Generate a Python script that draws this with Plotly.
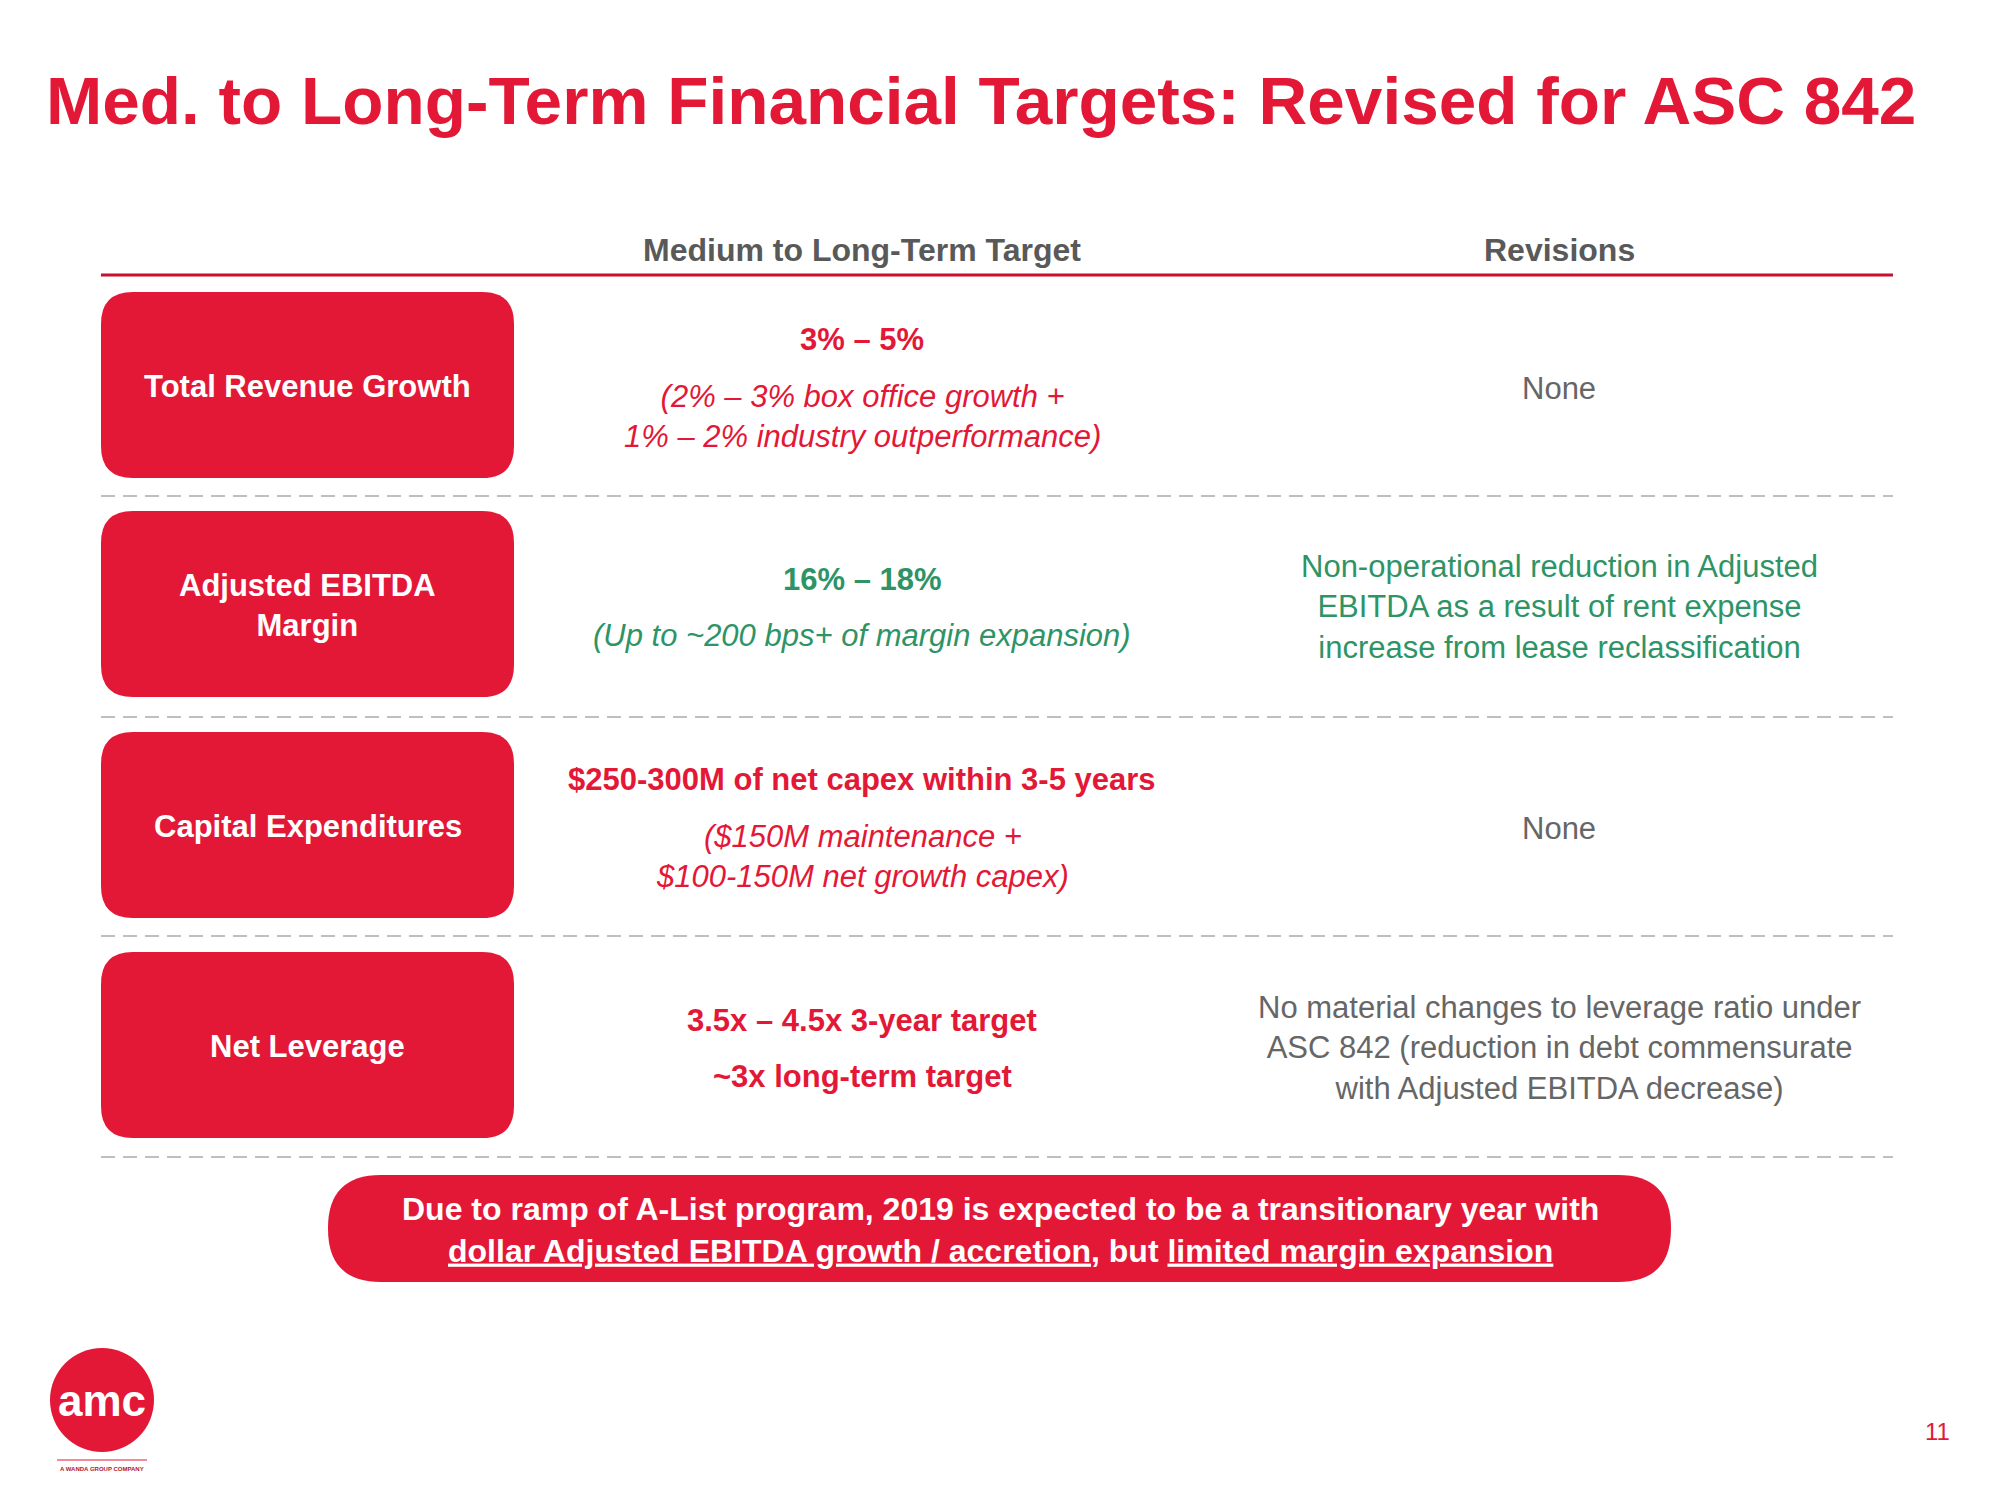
import plotly.graph_objects as go

# ---------------- data ----------------
title_text = "Med. to Long-Term Financial Targets: Revised for ASC 842"
column_headers = ["Medium to Long-Term Target", "Revisions"]
categories = ["Total Revenue Growth", "Adjusted EBITDA<br>Margin",
              "Capital Expenditures", "Net Leverage"]
target_main = ["3% – 5%", "16% – 18%",
               "$250-300M of net capex within 3-5 years",
               "3.5x – 4.5x 3-year target"]
target_sub = ["(2% – 3% box office growth +<br>1% – 2% industry outperformance)",
              "(Up to ~200 bps+ of margin expansion)",
              "($150M maintenance +<br>$100-150M net growth capex)",
              "~3x long-term target"]
target_sub_italic = [True, True, True, False]
target_kind = ["red", "green", "red", "red"]
revisions = ["None",
             "Non-operational reduction in Adjusted<br>EBITDA as a result of rent expense<br>increase from lease reclassification",
             "None",
             "No material changes to leverage ratio under<br>ASC 842 (reduction in debt commensurate<br>with Adjusted EBITDA decrease)"]
revision_kind = ["gray", "green", "gray", "gray"]
banner_text = ("Due to ramp of A-List program, 2019 is expected to be a transitionary year with<br>"
               "<u>dollar Adjusted EBITDA growth / accretion</u>, but <u>limited margin expansion</u>")
logo_text = "amc"
logo_tagline = "A WANDA GROUP COMPANY"
page_number = "11"

# ---------------- style ----------------
RED = "#E31837"
GREEN = "#2E9466"
GRAY = "#666666"
HEAD = "#595959"
DASH = "#BFBFBF"
COL = {"red": RED, "green": GREEN, "gray": GRAY}
FONT = "Liberation Sans, Arial, sans-serif"

W, H = 2000, 1500
OFF = 8  # page body margin
box_x0, box_x1 = 101, 514
row_top = [292, 511, 732, 952]
row_h = 186
dash_y = [496, 717, 936, 1157]
mid_x, rev_x = 862, 1559
table_x0, table_x1 = 101, 1893


def rrect(x0, y0, x1, y1, r):
    return (f"M{x0+r},{y0} L{x1-r},{y0} Q{x1},{y0} {x1},{y0+r} "
            f"L{x1},{y1-r} Q{x1},{y1} {x1-r},{y1} L{x0+r},{y1} "
            f"Q{x0},{y1} {x0},{y1-r} L{x0},{y0+r} Q{x0},{y0} {x0+r},{y0} Z")


def txt(x, y, text, size, color, anchor="center"):
    return dict(x=x, y=y, text=text, xanchor=anchor, yanchor="middle", showarrow=False,
                font=dict(family=FONT, size=size, color=color))


fig = go.Figure()
fig.add_trace(go.Scatter(x=[OFF, W], y=[OFF, H], mode="markers",
                         marker=dict(opacity=0), hoverinfo="skip", showlegend=False))

shapes = []
annotations = []

# title
annotations.append(txt(44, 100, f"<b>{title_text}</b>", 67.5, RED, "left"))

# headers
for hx, htxt in zip([mid_x, rev_x], column_headers):
    annotations.append(txt(hx, 250, f"<b>{htxt}</b>", 32, HEAD))
shapes.append(dict(type="line", x0=table_x0, x1=table_x1, y0=275, y1=275,
                   line=dict(color="#C8102E", width=3)))

for i in range(4):
    top = row_top[i]
    cy = top + row_h / 2
    shapes.append(dict(type="path", path=rrect(box_x0, top, box_x1, top + row_h, 32),
                       fillcolor=RED, line=dict(width=0)))
    annotations.append(txt((box_x0 + box_x1) / 2, cy + 1, f"<b>{categories[i]}</b>", 31, "white"))
    two_line = "<br>" in target_sub[i]
    my = cy - 46 if two_line else cy - 25
    c = COL[target_kind[i]]
    annotations.append(txt(mid_x, my, f"<b>{target_main[i]}</b>", 31, c))
    sub = f"<i>{target_sub[i]}</i>" if target_sub_italic[i] else f"<b>{target_sub[i]}</b>"
    annotations.append(txt(mid_x, cy + 31, sub, 31, c))
    annotations.append(txt(rev_x, cy + 3, revisions[i], 31, COL[revision_kind[i]]))
    shapes.append(dict(type="line", x0=table_x0, x1=table_x1, y0=dash_y[i], y1=dash_y[i],
                       line=dict(color=DASH, width=2, dash="14px,8px")))

# banner
shapes.append(dict(type="path", path=rrect(328, 1175, 1671, 1282, 53), fillcolor=RED, line=dict(width=0)))
annotations.append(txt(1000, 1230, f"<b>{banner_text}</b>", 32, "white"))

# logo
shapes.append(dict(type="circle", x0=50, x1=154, y0=1348, y1=1452, fillcolor=RED, line=dict(width=0)))
annotations.append(txt(102, 1400, f"<b>{logo_text}</b>", 44, "white"))
shapes.append(dict(type="line", x0=57, x1=147, y0=1460, y1=1460, line=dict(color=RED, width=1)))
annotations.append(txt(102, 1469, f"<b>{logo_tagline}</b>", 6, "#B0152F"))

# page number
annotations.append(txt(1937, 1431, page_number, 24, RED))

fig.update_layout(
    width=W, height=H, margin=dict(l=0, r=0, t=0, b=0),
    paper_bgcolor="white", plot_bgcolor="white",
    xaxis=dict(range=[OFF, W + OFF], visible=False, fixedrange=True),
    yaxis=dict(range=[H + OFF, OFF], visible=False, fixedrange=True),
    shapes=shapes, annotations=annotations, showlegend=False,
)
fig.write_html("out.html")
